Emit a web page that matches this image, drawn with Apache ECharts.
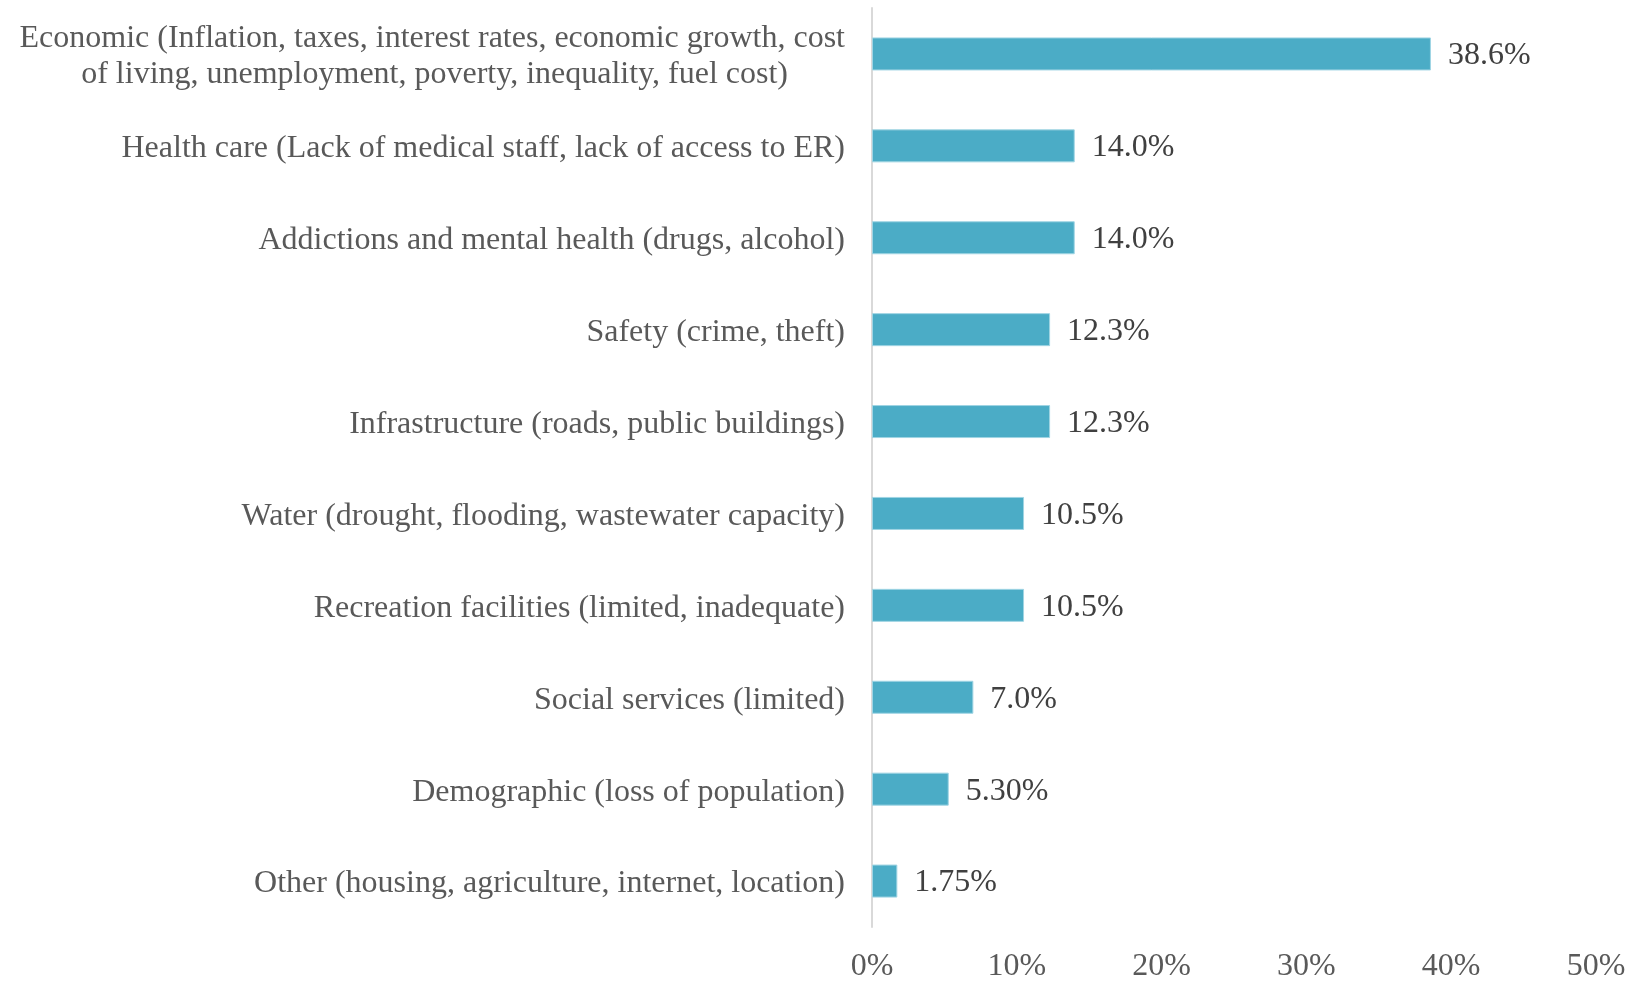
<!DOCTYPE html>
<html>
<head>
<meta charset="utf-8">
<script src="https://cdn.jsdelivr.net/npm/echarts@6/dist/echarts.min.js"></script>
<style>html,body{margin:0;padding:0;background:#fff}#c{width:1634px;height:983px}</style>
</head>
<body>
<div id="c"></div>
<script>
const categories = [
  'Economic (Inflation, taxes, interest rates, economic growth, cost\nof living, unemployment, poverty, inequality, fuel cost)',
  'Health care (Lack of medical staff, lack of access to ER)',
  'Addictions and mental health (drugs, alcohol)',
  'Safety (crime, theft)',
  'Infrastructure (roads, public buildings)',
  'Water (drought, flooding, wastewater capacity)',
  'Recreation facilities (limited, inadequate)',
  'Social services (limited)',
  'Demographic (loss of population)',
  'Other (housing, agriculture, internet, location)'
];
const values = [38.6, 14.0, 14.0, 12.3, 12.3, 10.5, 10.5, 7.0, 5.30, 1.75];
const valueLabels = ['38.6%', '14.0%', '14.0%', '12.3%', '12.3%', '10.5%', '10.5%', '7.0%', '5.30%', '1.75%'];
const xTicks = [0, 10, 20, 30, 40, 50];

const FONT = '"Liberation Serif", "Times New Roman", serif';
const chart = echarts.init(document.getElementById('c'), null, {renderer: 'canvas'});
chart.setOption({
  animation: false,
  backgroundColor: '#ffffff',
  grid: {left: 872, right: 38, top: 8, bottom: 52, containLabel: false},
  xAxis: {
    type: 'value',
    min: xTicks[0],
    max: xTicks[xTicks.length - 1],
    interval: 10,
    axisLine: {show: false},
    axisTick: {show: false},
    splitLine: {show: false},
    axisLabel: {
      formatter: '{value}%',
      fontFamily: FONT,
      fontSize: 32,
      color: '#595959',
      margin: 24
    }
  },
  yAxis: {
    type: 'category',
    inverse: true,
    data: categories,
    axisLine: {show: true, lineStyle: {color: '#D9D9D9', width: 2}},
    axisTick: {show: false},
    axisLabel: {
      margin: 27,
      padding: [6, 0, 0, 0],
      fontFamily: FONT,
      fontSize: 32,
      color: '#595959',
      lineHeight: 36,
      formatter: function (v) {
        const parts = v.split('\n');
        if (parts.length === 1) return '{a|' + v + '}';
        return '{a|' + parts[0] + '}\n{b|' + parts[1] + '}';
      },
      rich: {
        a: {fontFamily: FONT, fontSize: 32, color: '#595959', lineHeight: 36},
        b: {fontFamily: FONT, fontSize: 32, color: '#595959', lineHeight: 36, padding: [0, 57, 0, 0]}
      }
    }
  },
  series: [{
    type: 'bar',
    data: values,
    barWidth: 33,
    itemStyle: {color: '#4BACC6', borderColor: '#9FD4E3', borderWidth: 1},
    label: {
      show: true,
      position: 'right',
      distance: 17,
      offset: [0, 2],
      fontFamily: FONT,
      fontSize: 32,
      color: '#404040',
      formatter: function (p) { return valueLabels[p.dataIndex]; }
    }
  }]
});
</script>
</body>
</html>
